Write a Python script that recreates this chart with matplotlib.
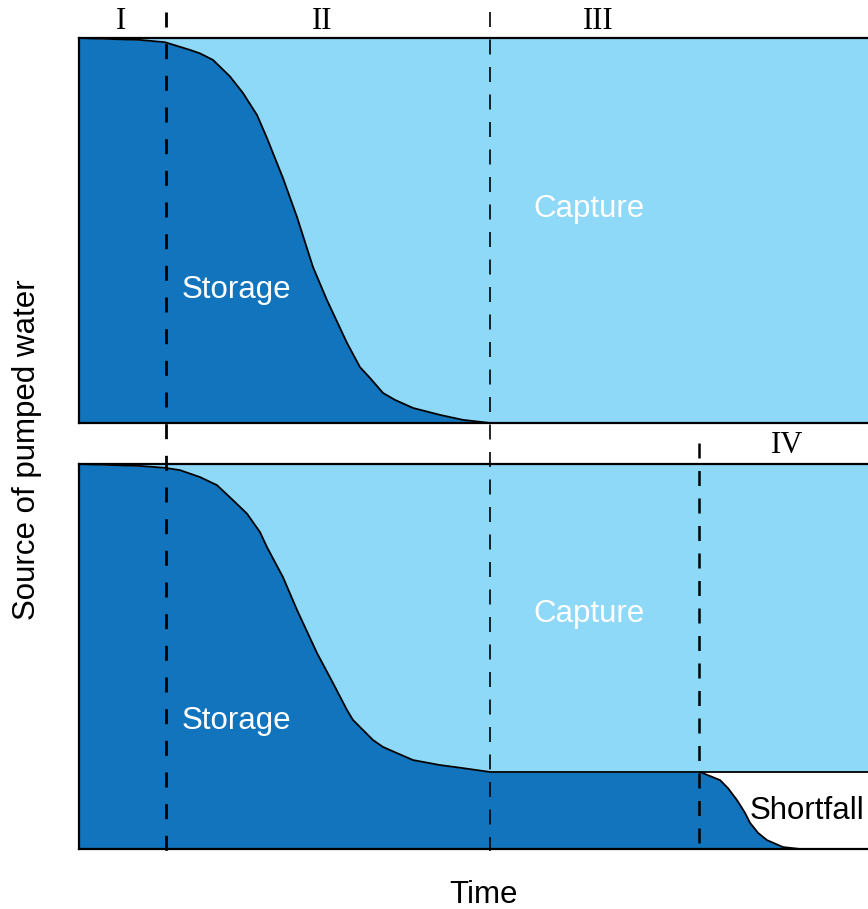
import numpy as np
import matplotlib
matplotlib.use("Agg")
import matplotlib.pyplot as plt
from matplotlib.lines import Line2D
from matplotlib.transforms import blended_transform_factory


# ---------------------------------------------------------------------------- #
#                                     Data                                     #
# ---------------------------------------------------------------------------- #
# Time (arbitrary units) and the share of pumped water taken from storage
top_time = [0, 61, 86, 101, 111, 121, 134, 151, 164, 178, 188, 204, 218, 234,
            248, 268, 281, 291, 304, 316, 334, 361, 384, 408, 411, 800]
top_storage = [1.0, 0.995, 0.989, 0.977, 0.969, 0.960, 0.943, 0.900, 0.857,
               0.800, 0.740, 0.636, 0.535, 0.405, 0.319, 0.208, 0.145, 0.117,
               0.078, 0.060, 0.039, 0.021, 0.008, 0.001, 0.0, 0.0]

bottom_time = [0, 61, 86, 101, 121, 138, 154, 168, 181, 188, 204, 218, 238, 254,
               268, 274, 284, 294, 304, 318, 334, 361, 384, 411, 621, 641, 649,
               658, 666, 671, 679, 688, 704, 721, 800]
bottom_storage = [1.0, 0.995, 0.990, 0.984, 0.966, 0.945, 0.906, 0.871, 0.823,
                  0.784, 0.706, 0.621, 0.509, 0.431, 0.361, 0.335, 0.309, 0.283,
                  0.265, 0.249, 0.231, 0.218, 0.210, 0.200, 0.200, 0.179, 0.158,
                  0.127, 0.094, 0.068, 0.042, 0.023, 0.005, 0.0, 0.0]

# Level of pumping that capture can supply after the shortfall starts
capture_limit = 0.2
shortfall_start = 621

# Phase boundaries (time) and labels
phase_bounds = [87, 411, 620]
phase_labels = ["I", "II", "III", "IV"]
phase_label_time = [42, 243, 519, 708]

# ---------------------------------------------------------------------------- #
#                                    Styles                                    #
# ---------------------------------------------------------------------------- #
DARK_BLUE = "#1174bc"
LIGHT_BLUE = "#8ed8f8"
SANS = "Liberation Sans"
SERIF = "Liberation Serif"
FS = 22.5

fig = plt.figure(figsize=(8.68, 9.09), dpi=100)

H = 385 / 909
ax_top = fig.add_axes([79 / 868, 1 - 423 / 909, 800 / 868, H])
ax_bot = fig.add_axes([79 / 868, 1 - 849 / 909, 800 / 868, H])

for ax in (ax_top, ax_bot):
    ax.set_xlim(0, 800)
    ax.set_ylim(0, 1)
    ax.set_xticks([])
    ax.set_yticks([])
    for s in ax.spines.values():
        s.set_linewidth(1.6)
        s.set_color("black")
        s.set_zorder(5)

# ---------------------------------------------------------------------------- #
#                                   Top panel                                  #
# ---------------------------------------------------------------------------- #
t = np.array(top_time)
s = np.array(top_storage)
ax_top.fill_between(t, 0, s, color=DARK_BLUE, lw=0)
ax_top.fill_between(t, s, 1, color=LIGHT_BLUE, lw=0)
ax_top.plot(t[t <= 411], s[t <= 411], color="black", lw=1.3, zorder=3,
            solid_joinstyle="round")

ax_top.text(157, 0.345, "Storage", color="white", fontsize=FS, family=SANS,
            ha="center", va="center")
ax_top.text(510, 0.556, "Capture", color="white", fontsize=FS, family=SANS,
            ha="center", va="center")

for lab, x in zip(phase_labels[:3], phase_label_time[:3]):
    ax_top.text(x, 1.042, lab, fontsize=22, family=SERIF, ha="center",
                va="center", clip_on=False)

# ---------------------------------------------------------------------------- #
#                                 Bottom panel                                 #
# ---------------------------------------------------------------------------- #
t = np.array(bottom_time)
s = np.array(bottom_storage)
after = t >= shortfall_start
lower = np.where(after, capture_limit, s)
ax_bot.fill_between(t, 0, s, color=DARK_BLUE, lw=0)
ax_bot.fill_between(t, lower, 1, color=LIGHT_BLUE, lw=0)
ax_bot.fill_between(t, s, capture_limit, where=after, color="white", lw=0)
ax_bot.plot(t[t <= 721], s[t <= 721], color="black", lw=1.3, zorder=3,
            solid_joinstyle="round")
ax_bot.plot([shortfall_start, 800], [capture_limit, capture_limit],
            color="black", lw=1.3, zorder=3)

ax_bot.text(157, 0.332, "Storage", color="white", fontsize=FS, family=SANS,
            ha="center", va="center")
ax_bot.text(510, 0.61, "Capture", color="white", fontsize=FS, family=SANS,
            ha="center", va="center")
ax_bot.text(671, 0.099, "Shortfall", color="black", fontsize=FS, family=SANS,
            ha="left", va="center")
ax_bot.text(phase_label_time[3], 1.047, phase_labels[3], fontsize=22,
            family=SERIF, ha="center", va="center", clip_on=False)

# ---------------------------------------------------------------------------- #
#                            Phase boundary dashes                             #
# ---------------------------------------------------------------------------- #
trans = blended_transform_factory(ax_top.transData, fig.transFigure)
y_low = 1 - 851 / 909
dash_specs = [
    (phase_bounds[0], 1 - 12 / 909, 2.0, (0, (5.4, 6.0))),
    (phase_bounds[1], 1 - 12 / 909, 1.2, (0, (9.0, 7.5))),
    (phase_bounds[2], 1 - 443 / 909, 1.8, (0, (6.0, 5.0))),
]
for x, y_top, lw, ls in dash_specs:
    fig.add_artist(Line2D([x, x], [y_top, y_low], transform=trans,
                          color="black", lw=lw, linestyle=ls, zorder=10))

# ---------------------------------------------------------------------------- #
#                                 Axis titles                                  #
# ---------------------------------------------------------------------------- #
fig.text(484 / 868, 1 - 895 / 909, "Time", fontsize=FS, family=SANS,
         ha="center", va="center")
fig.text(27 / 868, 1 - 450 / 909, "Source of pumped water", fontsize=FS,
         family=SANS, ha="center", va="center", rotation=90)

fig.savefig("out.png", dpi=100)
